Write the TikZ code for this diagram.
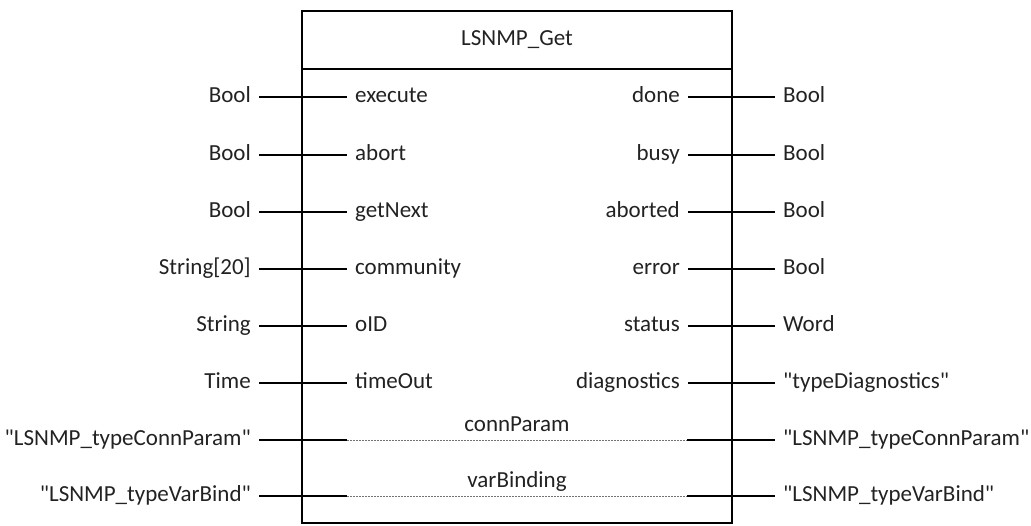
\documentclass[tikz,border=0pt]{standalone}
\usepackage{fontspec}
\setmainfont{Carlito}
\definecolor{ink}{HTML}{222222}
% straight double quote glyph, bypassing the TeX quote mapping
\newcommand\dq{\XeTeXglyph\XeTeXcharglyph34\relax}
\tikzset{
  wire/.style={line width=1.3pt, black},
  pinwire/.style={line width=1pt, black!55, dash pattern=on 2pt off 1pt},
  lbl/.style={font=\fontsize{23}{27}\selectfont, text=ink, inner xsep=8pt,
    inner ysep=2pt, text height=11pt, text depth=0pt},
}
\begin{document}
\begin{tikzpicture}[x=1pt, y=-1pt]
  \useasboundingbox (0,0) rectangle (1031,525);
  % block frame and header
  \draw[wire] (302,11) rectangle (732,523);
  \draw[wire] (302,69) -- (732,69);
  \node[lbl] (title) at (517,40) {LSNMP\_Get};

  % inputs: type, pin name, row position
  \foreach \t/\p/\y [count=\i] in {Bool/execute/97, Bool/abort/155, Bool/getNext/212,
      String[20]/community/269, String/oID/326, Time/timeOut/383} {
    \node[lbl, anchor=east] (intype\i) at (259,\y) {\t};
    \node[lbl, anchor=west] (inpin\i) at (347,\y) {\p};
    \draw[wire] (intype\i.east) -- (inpin\i.west);
  }

  % outputs
  \foreach \p/\t/\y [count=\i] in {done/Bool/97, busy/Bool/155, aborted/Bool/212,
      error/Bool/269, status/Word/326, diagnostics/\dq typeDiagnostics\dq/383} {
    \node[lbl, anchor=east] (outpin\i) at (688,\y) {\p};
    \node[lbl, anchor=west] (outtype\i) at (775,\y) {\t};
    \draw[wire] (outpin\i.east) -- (outtype\i.west);
  }

  % in/out parameters passing through the block
  \foreach \p/\t/\y [count=\i] in {connParam/\dq LSNMP\_typeConnParam\dq/440,
      varBinding/\dq LSNMP\_typeVarBind\dq/496} {
    \node[lbl, anchor=east] (iotypeL\i) at (259,\y) {\t};
    \node[lbl, anchor=west] (iotypeR\i) at (775,\y) {\t};
    \coordinate (ioL\i) at (347,\y);
    \coordinate (ioR\i) at (687,\y);
    \node[lbl, anchor=base] (iopin\i) at (517,\y-9) {\p};
    \draw[wire] (iotypeL\i.east) -- (ioL\i);
    \draw[pinwire] (ioL\i) -- (ioR\i);
    \draw[wire] (ioR\i) -- (iotypeR\i.west);
  }
\end{tikzpicture}
\end{document}
